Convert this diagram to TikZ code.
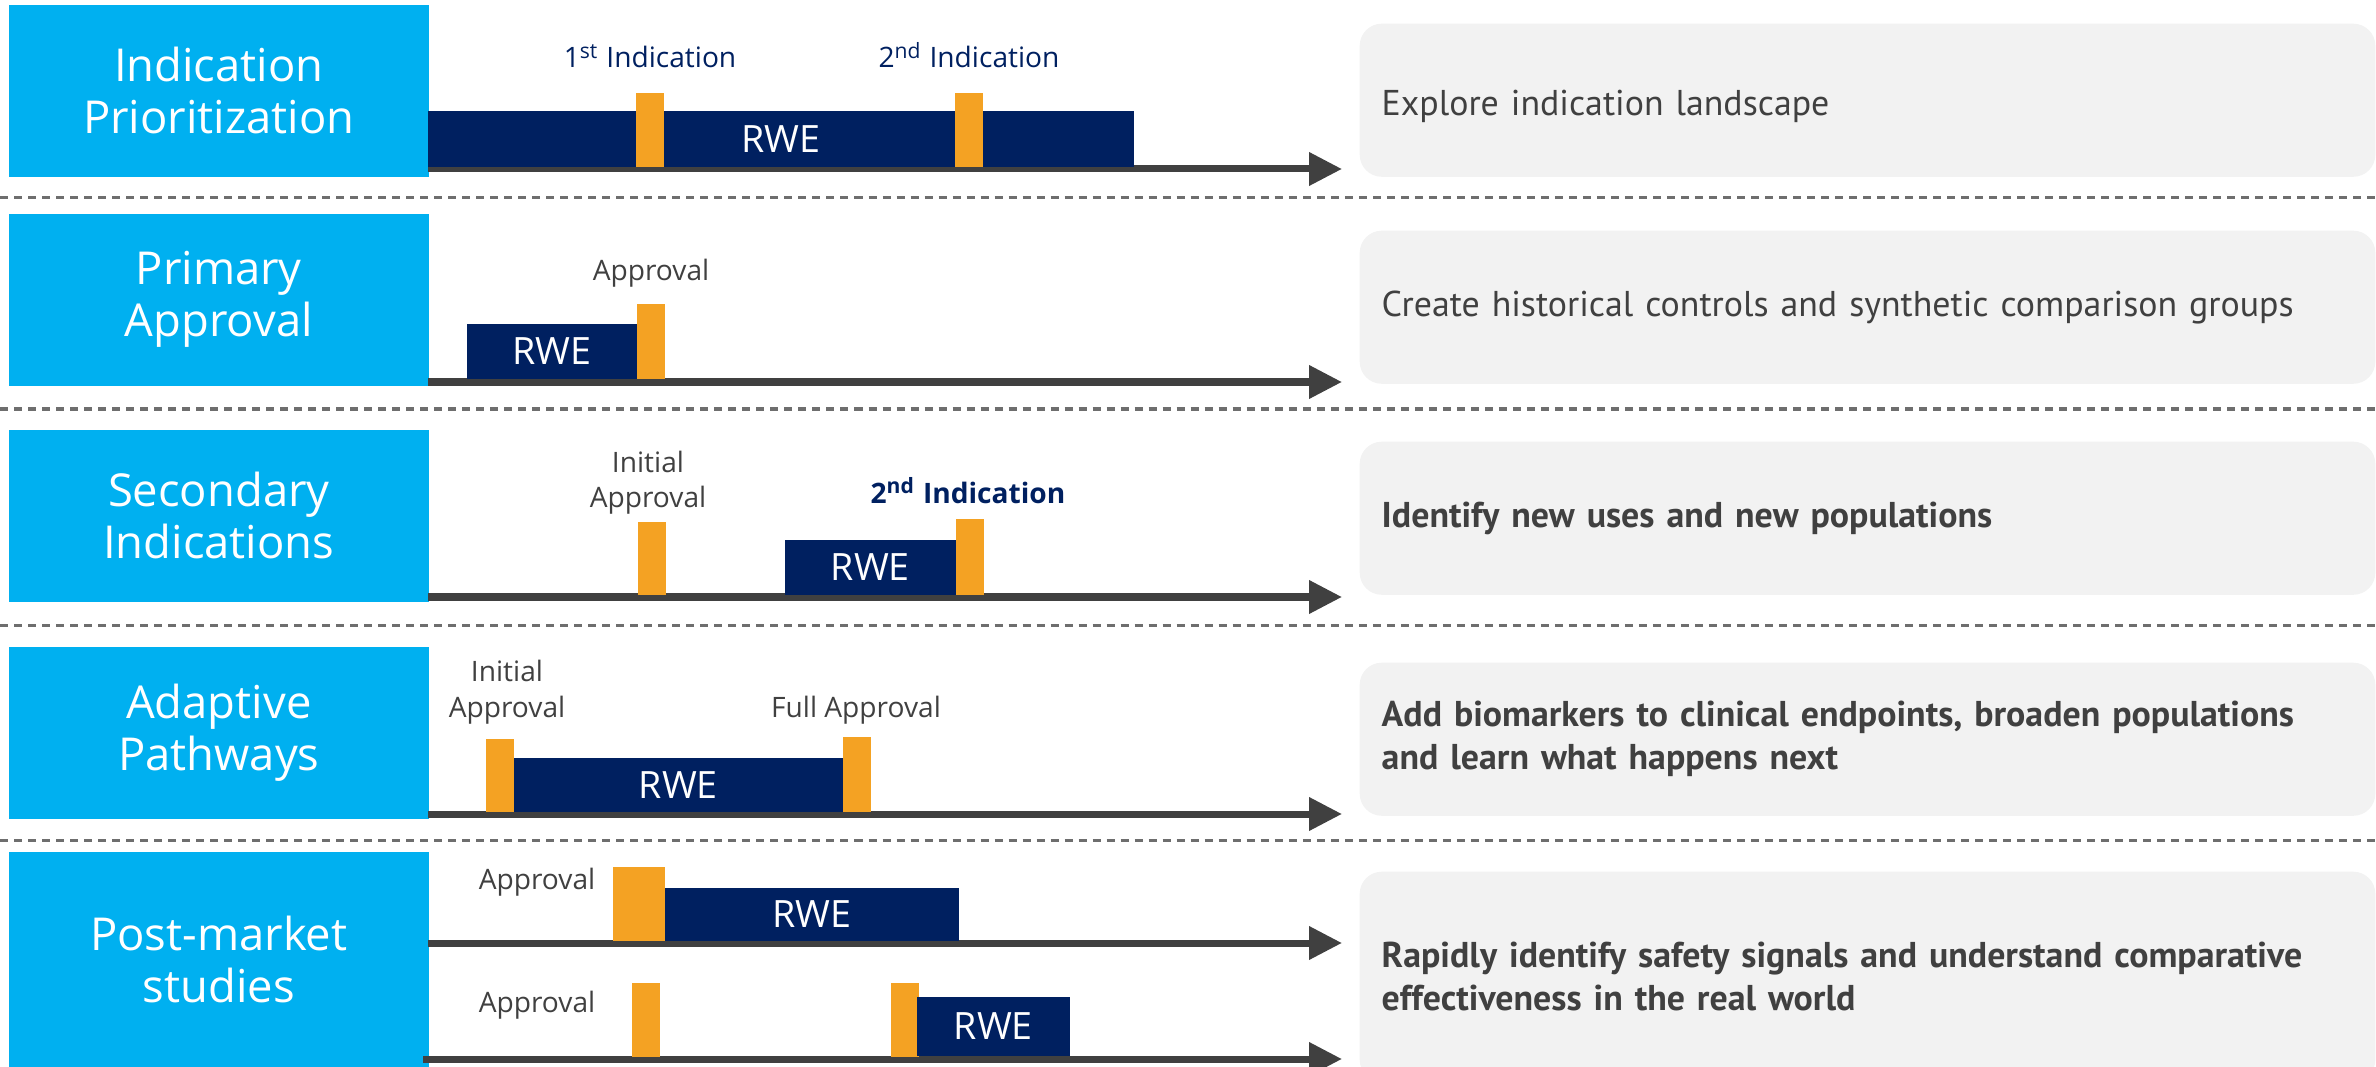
\documentclass[tikz,border=0pt]{standalone}
\usepackage{fontspec}
\setmainfont{Open Sans}
\newfontfamily\notefont{PT Sans}
\usetikzlibrary{arrows.meta}

\definecolor{phaseblue}{HTML}{00B0F0}
\definecolor{rwenavy}{HTML}{002060}
\definecolor{mileorange}{HTML}{F4A223}
\definecolor{axisgray}{HTML}{404040}
\definecolor{panelgray}{HTML}{F2F2F2}
\definecolor{labelgray}{HTML}{404040}
\definecolor{dashgray}{HTML}{6E6E6E}

\begin{document}
\begin{tikzpicture}
[x=0.01cm, y=-0.01cm,
 phase/.style={fill=phaseblue, text=white, anchor=north west, inner sep=0, minimum width=4.2cm, minimum height=1.72cm, align=center, font=\fontsize{12.9}{14.8}\selectfont},
 rwe/.style={fill=rwenavy, text=white, anchor=north west, inner sep=0, font=\fontsize{10.7}{12}\selectfont},
 milestone/.style={fill=mileorange, anchor=north west, inner sep=0, minimum width=0.28cm},
 tag/.style={anchor=base, text=labelgray, align=center, inner sep=0, font=\fontsize{8}{10.2}\selectfont},
 axis/.style={draw=axisgray, line width=0.07cm, -{Triangle[length=0.33cm, width=0.32cm]}},
 divider/.style={draw=dashgray, line width=0.03cm, dash pattern=on 0.08cm off 0.06cm},
 note/.style={fill=panelgray, rounded corners=0.22cm, anchor=north west, text width=9.71cm, inner xsep=0.22cm, inner ysep=0, minimum height=1.53cm, align=left, text=labelgray, font=\notefont\fontsize{10.2}{12.2}\selectfont},
 boldnote/.style={note, font=\notefont\bfseries\fontsize{10.2}{12.2}\selectfont}]
\useasboundingbox (0,0) rectangle (2376,1067);

% phases on the left
\node[phase] (p1) at (8,4) {Indication\\Prioritization};
\node[phase] (p2) at (8,213) {Primary\\Approval};
\node[phase] (p3) at (8,429) {Secondary\\Indications};
\node[phase] (p4) at (8,646) {Adaptive\\Pathways};
\node[phase, minimum height=2.16cm] (p5) at (8,851) {Post-market\\studies};

% dashed separators
\draw[divider] (0,198) -- (2376,198);
\draw[divider] (0,409) -- (2376,409);
\draw[divider] (0,625) -- (2376,625);
\draw[divider] (0,840) -- (2376,840);

% time axes
\coordinate (a1s) at (428,169); \coordinate (a1e) at (1342,169);
\coordinate (a2s) at (428,382); \coordinate (a2e) at (1342,382);
\coordinate (a3s) at (428,597); \coordinate (a3e) at (1342,597);
\coordinate (a4s) at (428,814); \coordinate (a4e) at (1342,814);
\coordinate (a5s) at (428,943); \coordinate (a5e) at (1342,943);
\coordinate (a6s) at (423,1059); \coordinate (a6e) at (1342,1059);
\foreach \a in {1,...,6}
  \draw[axis] (a\a s) -- (a\a e);

% indication prioritization
\node[rwe, minimum width=7.06cm, minimum height=0.56cm] (r1) at (427,110) {RWE};
\node[milestone, minimum height=0.74cm] (m11) at (635,92) {};
\node[milestone, minimum height=0.74cm] (m12) at (954,92) {};
\node[tag, text=rwenavy] (t11) at (650,68) {1\textsuperscript{st} Indication};
\node[tag, text=rwenavy] (t12) at (969,68) {2\textsuperscript{nd} Indication};

% primary approval
\node[rwe, minimum width=1.7cm, minimum height=0.55cm] (r2) at (466,323) {RWE};
\node[milestone, minimum height=0.75cm] (m21) at (636,303) {};
\node[tag] (t21) at (651,281) {Approval};

% secondary indications
\node[rwe, minimum width=1.71cm, minimum height=0.55cm] (r3) at (784,539) {RWE};
\node[milestone, minimum height=0.73cm] (m31) at (637,521) {};
\node[milestone, minimum height=0.76cm] (m32) at (955,518) {};
\node[tag] (t31) at (648,508) {Initial\\Approval};
\node[tag, text=rwenavy, font=\fontsize{8}{10.2}\selectfont\bfseries] (t32) at (968,503) {2\textsuperscript{nd} Indication};

% adaptive pathways
\node[rwe, minimum width=3.29cm, minimum height=0.54cm] (r4) at (513,757) {RWE};
\node[milestone, minimum height=0.73cm] (m41) at (485,738) {};
\node[milestone, minimum height=0.75cm] (m42) at (842,736) {};
\node[tag] (t41) at (507,717) {Initial\\Approval};
\node[tag] (t42) at (856,717) {Full Approval};

% post-market studies
\node[rwe, minimum width=2.94cm, minimum height=0.53cm] (r5) at (664,887) {RWE};
\node[milestone, minimum width=0.52cm, minimum height=0.74cm] (m51) at (612,866) {};
\node[tag] (t51) at (537,889) {Approval};
\node[milestone, minimum height=0.74cm] (m61) at (631,982) {};
\node[milestone, minimum height=0.74cm] (m62) at (890,982) {};
\node[rwe, minimum width=1.53cm, minimum height=0.59cm] (r6) at (916,996) {RWE};
\node[tag] (t61) at (537,1012) {Approval};

% purpose of each phase
\node[note] (n1) at (1359,23) {\raisebox{-0.06cm}[\height][\depth]{Explore indication landscape}};
\node[note] (n2) at (1359,230) {Create historical controls and synthetic comparison groups};
\node[boldnote] (n3) at (1359,441) {Identify new uses and new populations};
\node[boldnote] (n4) at (1359,662) {Add biomarkers to clinical endpoints, broaden populations\\and learn what happens next};
\node[boldnote, minimum height=2.1cm] (n5) at (1359,871) {Rapidly identify safety signals and understand comparative\\effectiveness in the real world};
\end{tikzpicture}
\end{document}
